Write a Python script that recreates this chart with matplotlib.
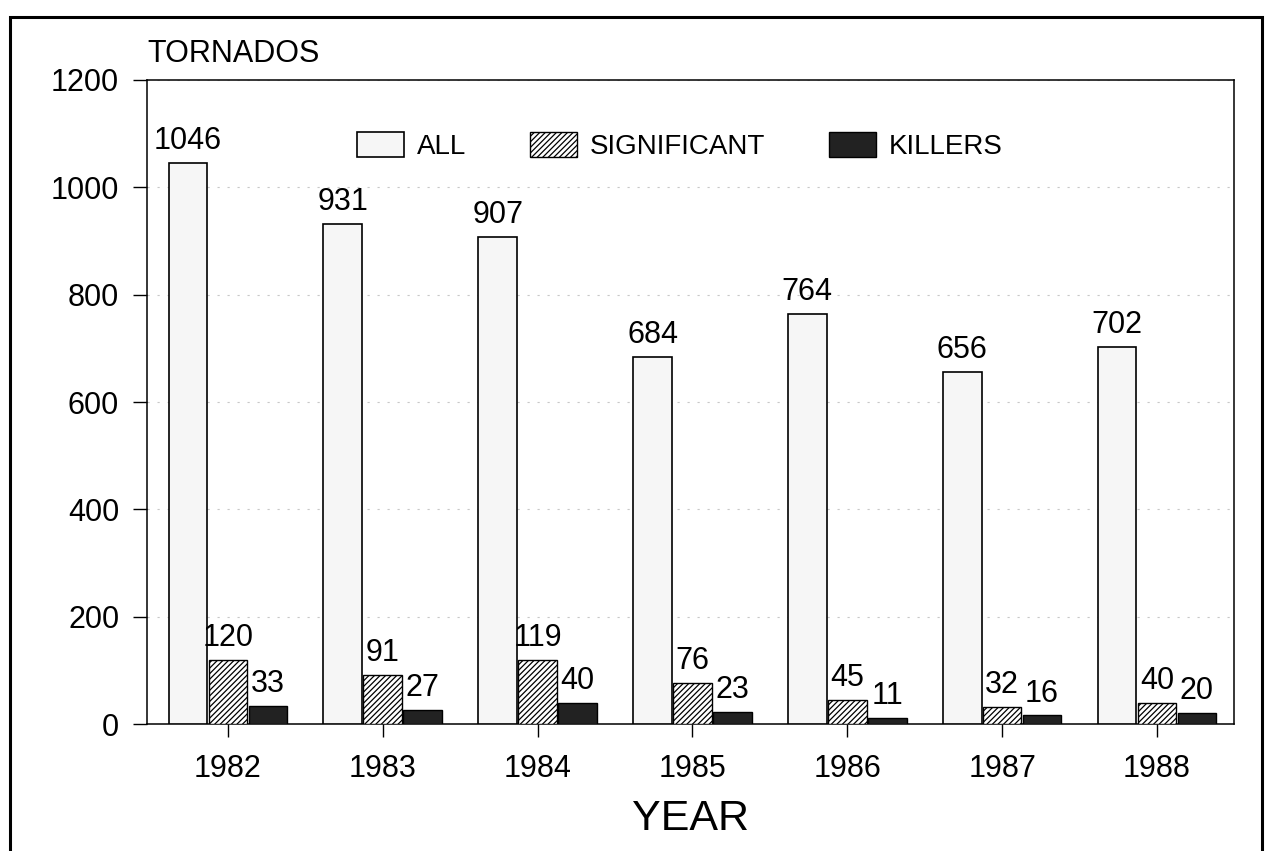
import matplotlib

matplotlib.use("Agg")
import matplotlib.pyplot as plt
import numpy as np
from matplotlib.patches import Rectangle

years = ["1982", "1983", "1984", "1985", "1986", "1987", "1988"]
all_tornados = [1046, 931, 907, 684, 764, 656, 702]
significant = [120, 91, 119, 76, 45, 32, 40]
killers = [33, 27, 40, 23, 11, 16, 20]
yticks = [0, 200, 400, 600, 800, 1000, 1200]

plt.rcParams["font.family"] = ["Liberation Sans", "DejaVu Sans"]
plt.rcParams["hatch.linewidth"] = 0.9

fig = plt.figure(figsize=(12.67, 8.51), dpi=100)
# axes box in pixels: x 147..1234, y 80..724 (of 1267x851)
ax = fig.add_axes([0.116, 0.1492, 0.8579, 0.7568])

x = np.arange(len(years))
w = 0.25
off = 0.258

b_all = ax.bar(x - off, all_tornados, w, facecolor="#f6f6f6", edgecolor="black",
               linewidth=1.2, label="ALL", zorder=3)
b_sig = ax.bar(x, significant, w, facecolor="white", edgecolor="black", hatch="//////",
               linewidth=1.0, label="SIGNIFICANT", zorder=3)
b_kil = ax.bar(x + off, killers, w, facecolor="#222222", edgecolor="black",
               linewidth=1.0, label="KILLERS", zorder=3)

for bars, vals in ((b_all, all_tornados), (b_sig, significant), (b_kil, killers)):
    for bar, v in zip(bars, vals):
        ax.annotate(str(v), (bar.get_x() + bar.get_width() / 2, v),
                    xytext=(0, 10), textcoords="offset points",
                    ha="center", va="baseline", fontsize=22)

ax.set_xlim(-0.523, 6.497)
ax.set_ylim(0, 1200)
ax.set_yticks(yticks)
ax.set_xticks(x)
ax.set_xticklabels(years)
ax.tick_params(axis="y", length=10, width=1, pad=10, labelsize=22, direction="out")
ax.tick_params(axis="x", length=9.5, width=1, pad=12, labelsize=22, direction="out")

for s in ax.spines.values():
    s.set_linewidth(1.1)

ax.grid(axis="y", color="#c8c8c8", linestyle=(0, (2, 7)), linewidth=0.8, zorder=0)
ax.set_axisbelow(True)

ax.set_xlabel("YEAR", fontsize=31)
ax.xaxis.label.set_va("baseline")
ax.xaxis.set_label_coords(0.5, -0.1646)
ax.text(0.0, 1.028, "TORNADOS", transform=ax.transAxes, fontsize=22,
        ha="left", va="baseline")

ax.legend(loc="center", bbox_to_anchor=(0.49, 0.8975), ncol=3, frameon=False,
          fontsize=20, handlelength=1.7, handleheight=1.0, handletextpad=0.45,
          columnspacing=2.3)

fig.patches.append(Rectangle((10 / 1267, -0.05), 1252 / 1267, 1.04 - 8 / 851,
                             transform=fig.transFigure, fill=False,
                             edgecolor="black", linewidth=2.2))

fig.savefig("out.png", dpi=100, facecolor="white")
